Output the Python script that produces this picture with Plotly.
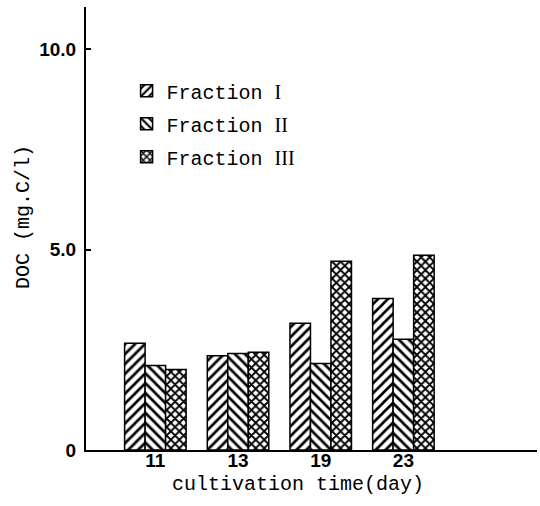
import plotly.graph_objects as go

# Dissolved organic carbon per fraction over the cultivation period
days = ["11", "13", "19", "23"]
fraction_1 = [2.66, 2.35, 3.16, 3.78]
fraction_2 = [2.11, 2.41, 2.16, 2.76]
fraction_3 = [2.01, 2.44, 4.71, 4.86]

series_names = ["Fraction I", "Fraction II", "Fraction III"]
numerals = ["I", "II", "III"]
series_values = [fraction_1, fraction_2, fraction_3]
patterns = [
    dict(shape="/", size=7, solidity=0.38),
    dict(shape="\\", size=7, solidity=0.38),
    dict(shape="x", size=6, solidity=0.52),
]

y_ticks = [0, 5, 10]
y_tick_text = ["0", "5.0", "10.0"]

mono = "Liberation Mono"
bold_sans = "Liberation Sans"

fig = go.Figure()
for name, num, vals, pat in zip(series_names, numerals, series_values, patterns):
    label = ("Fraction <span style='font-family:Liberation Serif'>"
             + num + "</span>")
    fig.add_trace(go.Bar(
        x=days, y=vals, name=label, legendgroup=name,
        marker=dict(
            color="white",
            line=dict(color="black", width=1.5),
            pattern=dict(fgcolor="black", bgcolor="white", fgopacity=1,
                         fillmode="overlay", **pat),
        ),
    ))

fig.update_layout(
    width=540, height=506,
    margin=dict(l=86, r=3, t=7, b=56),
    paper_bgcolor="white", plot_bgcolor="white",
    barmode="group", bargap=0.256, bargroupgap=0,
    showlegend=True,
    legend=dict(
        x=0.09, y=0.855, xanchor="left", yanchor="top",
        font=dict(family=mono, size=20, color="black"),
        bgcolor="rgba(0,0,0,0)", tracegroupgap=4,
    ),
    xaxis=dict(
        type="category", range=[-0.839, 4.616],
        showline=True, linecolor="black", linewidth=2,
        ticks="", showgrid=False, zeroline=False, ticklabelstandoff=-8,
        tickfont=dict(family=bold_sans, size=19, color="black", weight="bold"),
    ),
    yaxis=dict(
        range=[0, 11.05],
        tickvals=y_ticks, ticktext=y_tick_text,
        showline=True, linecolor="black", linewidth=2,
        ticks="inside", ticklen=5, tickwidth=1.5, tickcolor="black",
        showgrid=False, zeroline=False, ticklabelstandoff=4,
        tickfont=dict(family=bold_sans, size=19, color="black", weight="bold"),
    ),
    annotations=[
        dict(text="cultivation time(day)", xref="paper", yref="paper",
             x=(297.5 - 86) / 451, y=-(484 - 450) / 443,
             xanchor="center", yanchor="middle", showarrow=False,
             font=dict(family=mono, size=20, color="black")),
        dict(text="DOC (mg.C/l)", xref="paper", yref="paper",
             x=-(86 - 23) / 451, y=(450 - 217) / 443, textangle=-90,
             xanchor="center", yanchor="middle", showarrow=False,
             font=dict(family=mono, size=20, color="black")),
    ],
)

fig.write_html("out.html")
